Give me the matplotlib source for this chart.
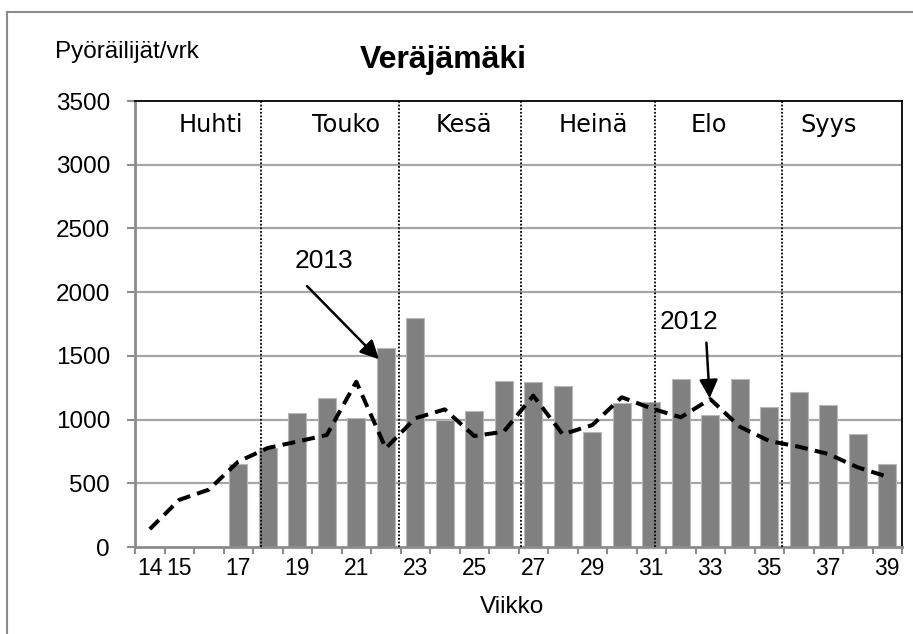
import numpy as np
import matplotlib
matplotlib.use("Agg")
import matplotlib.pyplot as plt
from matplotlib.lines import Line2D

# ---------------- data ----------------
weeks = list(range(14, 40))
bar_weeks = list(range(17, 40))
counts_2013 = [650, 780, 1055, 1170, 1010, 1560, 1800, 1000, 1070, 1305, 1292,
               1260, 903, 1132, 1140, 1321, 1038, 1321, 1101, 1214, 1114, 889, 654]
counts_2012 = [140, 370, 450, 670, 777, 827, 879, 1297, 775, 1010, 1080, 871, 905,
               1188, 884, 957, 1175, 1088, 1018, 1161, 944, 832, 787, 730, 625, 552]
tick_labels = ["14", "15", "", "17", "", "19", "", "21", "", "23", "", "25", "",
               "27", "", "29", "", "31", "", "33", "", "35", "", "37", "", "39"]
months = ["Huhti", "Touko", "Kesä", "Heinä", "Elo", "Syys"]
month_label_x = [16.07, 20.67, 24.65, 29.04, 32.97, 37.02]
month_bounds = [17.78, 22.44, 26.6, 31.12, 35.42]
y_ticks = [0, 500, 1000, 1500, 2000, 2500, 3000, 3500]

arial = "Liberation Sans"

W, H = 913, 634
fig = plt.figure(figsize=(W / 100, H / 100), dpi=100)
L, R, T, B = 135, 902, 101, 547
ax = fig.add_axes([L / W, (H - B) / H, (R - L) / W, (B - T) / H])

# outer frame (left and top visible)
fig.add_artist(Line2D([7 / W, 7 / W], [0, 1 - 12 / H], transform=fig.transFigure,
                      color="#8c8c8c", lw=1.5))
fig.add_artist(Line2D([7 / W, 1], [1 - 12 / H, 1 - 12 / H], transform=fig.transFigure,
                      color="#8c8c8c", lw=1.5))

ax.set_xlim(13.5, 39.5)
ax.set_ylim(0, 3500)

# grid
for yv in y_ticks[1:-1]:
    ax.axhline(yv, color="#a6a6a6", lw=1.6, zorder=1)

# bars
ax.bar(bar_weeks, counts_2013, width=0.6, color="#808080", edgecolor="#b8b8b8",
       linewidth=0.8, zorder=2)

# month separators
for xb in month_bounds:
    ax.axvline(xb, color="black", lw=1.3, linestyle=(0, (1, 1)), zorder=3)

# 2012 line
ax.plot(weeks, counts_2012, color="black", lw=2.9, linestyle=(0, (3.2, 1.8)),
        dash_capstyle="butt", zorder=4)

# axes styling
for s in ["top", "right"]:
    ax.spines[s].set_color("black")
    ax.spines[s].set_linewidth(1.3)
for s in ["left", "bottom"]:
    ax.spines[s].set_color("#8c8c8c")
    ax.spines[s].set_linewidth(2)

ax.set_yticks(y_ticks)
ax.set_yticklabels([str(v) for v in y_ticks], fontfamily=arial, fontsize=17.5)
ax.tick_params(axis="y", direction="out", length=6, width=1.5, color="#8c8c8c",
               pad=12)

ax.set_xticks(weeks)
ax.set_xticklabels(tick_labels, fontfamily=arial, fontsize=16.5)
ax.set_xticks(np.arange(13.5, 40, 1.0), minor=True)
ax.tick_params(axis="x", which="major", length=0, pad=7)
ax.tick_params(axis="x", which="minor", direction="out", length=5, width=1.5,
               color="#8c8c8c")

# month labels
for name, xm in zip(months, month_label_x):
    ax.text(xm, 3254, name, ha="center", va="baseline", fontsize=17.3,
            fontfamily="DejaVu Sans", zorder=5)

# annotations
arrow_kw = dict(arrowstyle="-|>", color="black", lw=1.8, shrinkA=0, shrinkB=0,
                mutation_scale=28)
ax.text(19.9, 2245, "2013", ha="center", va="center", fontsize=19,
        fontfamily=arial, zorder=6)
ax.annotate("", xy=(21.77, 1473), xytext=(19.33, 2048), arrowprops=arrow_kw,
            zorder=6)
ax.text(32.27, 1766, "2012", ha="center", va="center", fontsize=19,
        fontfamily=arial, zorder=6)
ax.annotate("", xy=(32.98, 1167), xytext=(32.87, 1603), arrowprops=arrow_kw,
            zorder=6)

# titles
fig.text(55 / W, 1 - 52 / H, "Pyöräilijät/vrk", ha="left", va="center",
         fontsize=17.5, fontfamily=arial)
fig.text(443 / W, 1 - 60 / H, "Veräjämäki", ha="center", va="center",
         fontsize=23, fontweight="bold", fontfamily=arial)
fig.text(512 / W, 1 - 607 / H, "Viikko", ha="center", va="center",
         fontsize=17.5, fontfamily=arial)

fig.savefig("out.png", dpi=100)
